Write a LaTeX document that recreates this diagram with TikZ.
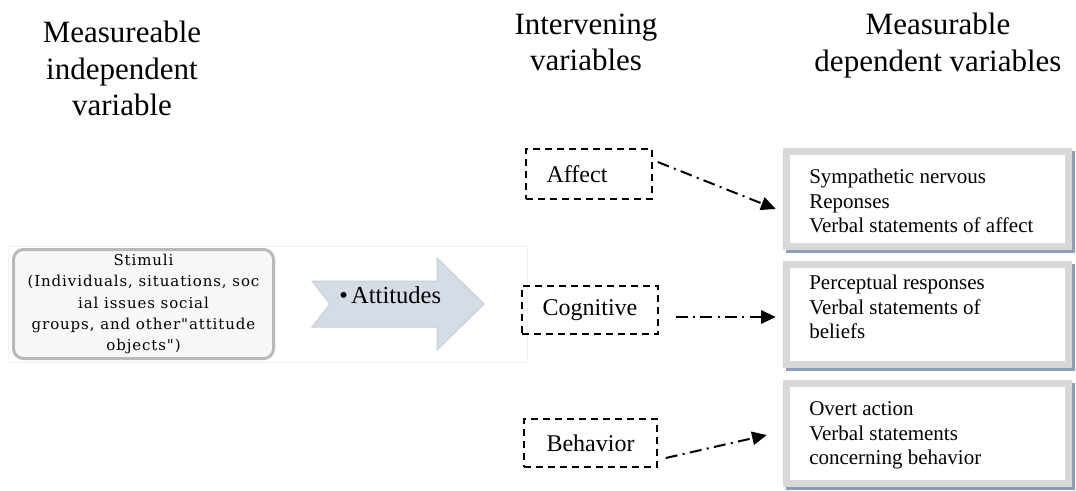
\documentclass[tikz,border=0pt]{standalone}
\usepackage{fontspec}
\setmainfont{Liberation Serif}
\newfontfamily\stimfont[LetterSpace=6]{DejaVu Serif}
\usetikzlibrary{arrows.meta,calc,shadows}
\definecolor{framegray}{RGB}{216,216,216}
\definecolor{shadowblue}{RGB}{140,158,182}
\definecolor{stimborder}{RGB}{185,185,185}
\definecolor{stimfill}{RGB}{248,248,248}
\definecolor{faintgray}{RGB}{241,241,241}
\definecolor{arrowfill}{RGB}{213,220,230}
\definecolor{arrowdraw}{RGB}{196,206,220}
\tikzset{
  hdr/.style={font=\fontsize{23.25pt}{27.4pt}\selectfont, align=center, inner sep=0pt, anchor=north},
  dbox/.style={draw=black, line width=1.1pt, dash pattern=on 5.25pt off 3.75pt,
    font=\fontsize{18pt}{21pt}\selectfont, inner sep=0pt},
  depbox/.style={fill=framegray, minimum width=216.75pt, inner sep=0pt,
    drop shadow={shadow xshift=2.25pt, shadow yshift=-2.25pt, fill=shadowblue, opacity=1},
    path picture={\fill[white] ([shift={(7,7)}]path picture bounding box.north west)
       rectangle ([shift={(-7,-7)}]path picture bounding box.south east);}},
  deptext/.style={font=\fontsize{15.75pt}{18.4pt}\selectfont, align=left, inner sep=0pt, anchor=north west},
  conn/.style={line width=1.5pt, dash pattern=on 9pt off 4pt on 1.5pt off 4pt,
    -{Triangle[length=11pt,width=10pt]}},
}
\begin{document}
\begin{tikzpicture}[x=0.75pt,y=-0.75pt]
\useasboundingbox (0,0) rectangle (1076,490);
\fill[white] (0,0) rectangle (1076,490);
% headers
\node[hdr] (h1) at (122,21) {Measureable\\independent\\variable};
\node[hdr] (h2) at (586,13.5) {Intervening\\variables};
\node[hdr] (h3) at (938,13) {Measurable\\dependent variables};
% faint frame behind stimuli
\draw[faintgray, line width=0.75pt] (8,246) rectangle (527,362);
% stimuli box
\node[draw=stimborder, fill=stimfill, line width=2.25pt, rounded corners=7.5pt,
  minimum width=195pt, minimum height=81.75pt, inner sep=0pt, align=center,
  font=\stimfont\fontsize{11.25pt}{16.1pt}\selectfont] (stim) at (143.5,304)
  {Stimuli\\(Individuals, situations, soc\\ial issues social\\groups, and other"attitude\\objects")};
% attitudes arrow
\draw[fill=arrowfill, draw=arrowdraw, line width=0.75pt]
  (312,281) -- (437,281) -- (437,258) -- (484,304) -- (437,350) -- (437,327)
  -- (312,327) -- (330,304) -- cycle;
\node[anchor=base west, inner sep=0pt, font=\fontsize{18.4pt}{22pt}\selectfont] (att) at (339,303)
  {•\hspace{2.5pt}Attitudes};
% intervening dashed boxes
\node[dbox, minimum width=94.5pt, minimum height=37.5pt] (affect) at (589,174) {Affect\hspace*{18pt}};
\node[dbox, minimum width=102pt, minimum height=36pt] (cog) at (590,310) {Cognitive};
\node[dbox, minimum width=99.75pt, minimum height=36pt] (beh) at (590.5,443) {Behavior};
% dependent boxes
\node[depbox, minimum height=76.5pt] (dep1) at (927.5,199) {};
\node[depbox, minimum height=80.25pt] (dep2) at (927.5,314.5) {};
\node[depbox, minimum height=80.25pt] (dep3) at (927.5,433.5) {};
\node[deptext] (dep1t) at (809,168.7) {Sympathetic nervous\\Reponses\\Verbal statements of affect};
\node[deptext] (dep2t) at (809,274.7) {Perceptual responses\\Verbal statements of\\beliefs};
\node[deptext] (dep3t) at (809,401.7) {Overt action\\Verbal statements\\concerning behavior};
% connectors
\coordinate (a1s) at ($(affect.east)+(5,-12)$);
\coordinate (a1e) at ($(dep1.west)+(-7,10)$);
\coordinate (c1s) at ($(cog.east)+(17,7)$);
\coordinate (c1e) at ($(dep2.west)+(-7,2.5)$);
\coordinate (b1s) at ($(beh.east)+(8,15)$);
\coordinate (b1e) at ($(dep3.west)+(-16,1.5)$);
\draw[conn] (a1s) -- (a1e);
\draw[conn] (c1s) -- (c1e);
\draw[conn] (b1s) -- (b1e);
\end{tikzpicture}
\end{document}
